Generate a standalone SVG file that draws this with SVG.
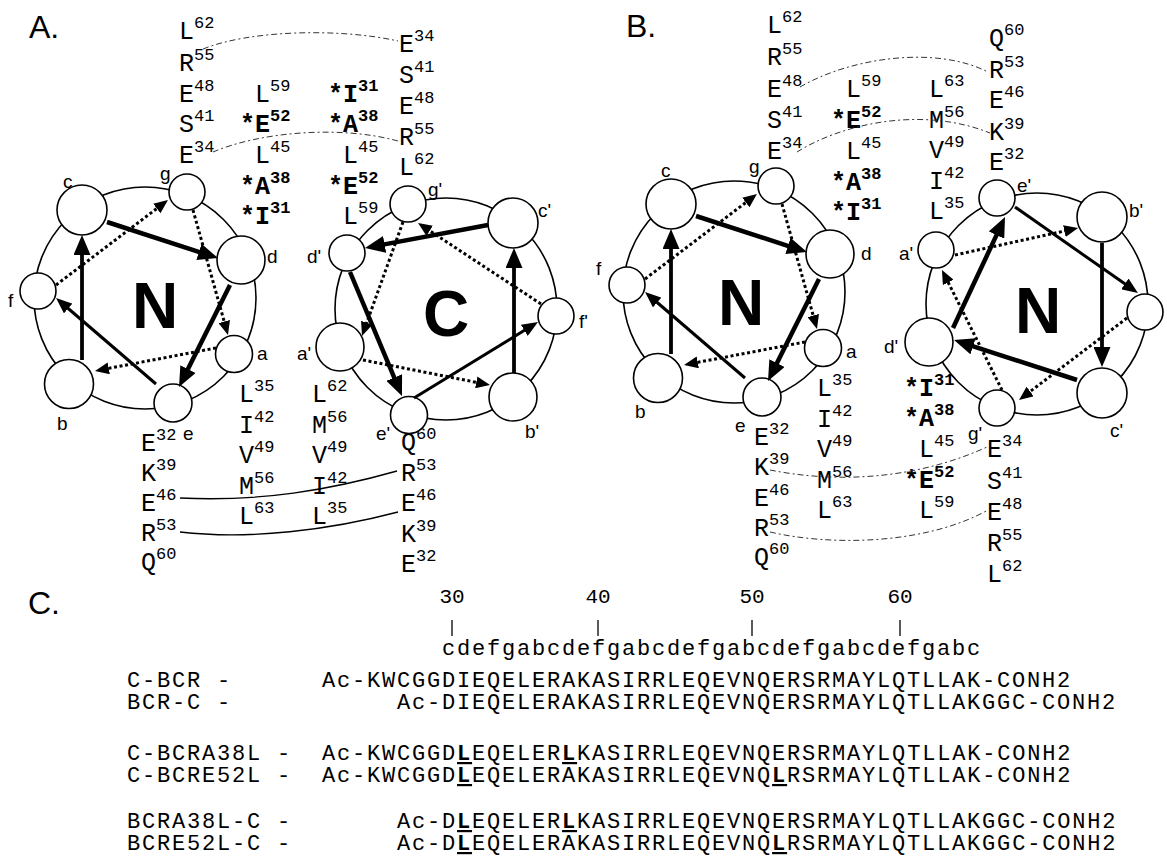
<svg xmlns="http://www.w3.org/2000/svg" width="1167" height="865" viewBox="0 0 1167 865">
<style>
  .ring{fill:none;stroke:#000;stroke-width:1.6}
  .res{fill:#fff;stroke:#000;stroke-width:1.6}
  .pos{font-family:"Liberation Sans",Arial,sans-serif;font-size:19px}
  .big{font-family:"Liberation Sans",Arial,sans-serif;font-weight:bold;font-size:64px;text-anchor:middle}
  .aa{font-family:"Liberation Mono","Courier New",monospace;font-size:25px}
  .sup{font-size:17px}
  .b{font-weight:bold}
  .panel{font-family:"Liberation Sans",Arial,sans-serif;font-size:32px}
  .seq{font-family:"Liberation Mono","Courier New",monospace;font-size:22px;letter-spacing:1.8px}
  .num{font-family:"Liberation Mono","Courier New",monospace;font-size:21px;text-anchor:middle}
  .mut{font-weight:bold;text-decoration:underline}
  .ar4{fill:none;stroke:#000;stroke-width:4.5;marker-end:url(#hL)}
  .ar3{fill:none;stroke:#000;stroke-width:3.8;marker-end:url(#hL)}
  .ar2{fill:none;stroke:#000;stroke-width:3;marker-end:url(#hM)}
  .dot{fill:none;stroke:#000;stroke-width:3;stroke-dasharray:3 2.6;marker-end:url(#hS)}
  .dash{fill:none;stroke:#333;stroke-width:1;stroke-dasharray:6 3 2 3}
  .link{fill:none;stroke:#000;stroke-width:1.3}
  .tick{stroke:#000;stroke-width:1.3}
</style>
<defs>
  <marker id="hL" markerUnits="userSpaceOnUse" markerWidth="20" markerHeight="17" viewBox="0 0 20 17" refX="3" refY="8.5" orient="auto"><path d="M0,0 L20,8.5 L0,17 Z"/></marker>
  <marker id="hM" markerUnits="userSpaceOnUse" markerWidth="16" markerHeight="13" viewBox="0 0 16 13" refX="3" refY="6.5" orient="auto"><path d="M0,0 L16,6.5 L0,13 Z"/></marker>
  <marker id="hS" markerUnits="userSpaceOnUse" markerWidth="14" markerHeight="12" viewBox="0 0 14 12" refX="3" refY="6" orient="auto"><path d="M0,0 L14,6 L0,12 Z"/></marker>
</defs>
<rect width="1167" height="865" fill="#fff"/>

<!-- panel letters -->
<text class="panel" x="29" y="38">A.</text>
<text class="panel" x="626" y="37">B.</text>
<text class="panel" x="28" y="614">C.</text>

<!-- ===== Panel A residue columns ===== -->
<g id="a-residues" class="aa">
  <text x="179" y="39">L<tspan class="sup" dy="-11">62</tspan></text>
  <text x="179" y="71">R<tspan class="sup" dy="-11">55</tspan></text>
  <text x="179" y="102">E<tspan class="sup" dy="-11">48</tspan></text>
  <text x="179" y="132">S<tspan class="sup" dy="-11">41</tspan></text>
  <text x="179" y="163">E<tspan class="sup" dy="-11">34</tspan></text>

  <text x="255" y="102">L<tspan class="sup" dy="-11">59</tspan></text>
  <text class="b" x="240" y="132">*E<tspan class="sup" dy="-11">52</tspan></text>
  <text x="255" y="163">L<tspan class="sup" dy="-11">45</tspan></text>
  <text class="b" x="240" y="194">*A<tspan class="sup" dy="-11">38</tspan></text>
  <text class="b" x="240" y="224">*I<tspan class="sup" dy="-11">31</tspan></text>

  <text class="b" x="328" y="102">*I<tspan class="sup" dy="-11">31</tspan></text>
  <text class="b" x="328" y="132">*A<tspan class="sup" dy="-11">38</tspan></text>
  <text x="343" y="163">L<tspan class="sup" dy="-11">45</tspan></text>
  <text class="b" x="328" y="194">*E<tspan class="sup" dy="-11">52</tspan></text>
  <text x="343" y="224">L<tspan class="sup" dy="-11">59</tspan></text>

  <text x="399" y="52">E<tspan class="sup" dy="-11">34</tspan></text>
  <text x="399" y="83">S<tspan class="sup" dy="-11">41</tspan></text>
  <text x="399" y="114">E<tspan class="sup" dy="-11">48</tspan></text>
  <text x="399" y="145">R<tspan class="sup" dy="-11">55</tspan></text>
  <text x="399" y="175">L<tspan class="sup" dy="-11">62</tspan></text>

  <text x="141" y="451">E<tspan class="sup" dy="-11">32</tspan></text>
  <text x="141" y="481">K<tspan class="sup" dy="-11">39</tspan></text>
  <text x="141" y="511">E<tspan class="sup" dy="-11">46</tspan></text>
  <text x="141" y="541">R<tspan class="sup" dy="-11">53</tspan></text>
  <text x="141" y="570">Q<tspan class="sup" dy="-11">60</tspan></text>

  <text x="239" y="402">L<tspan class="sup" dy="-11">35</tspan></text>
  <text x="239" y="433">I<tspan class="sup" dy="-11">42</tspan></text>
  <text x="239" y="463">V<tspan class="sup" dy="-11">49</tspan></text>
  <text x="239" y="494">M<tspan class="sup" dy="-11">56</tspan></text>
  <text x="239" y="524">L<tspan class="sup" dy="-11">63</tspan></text>

  <text x="312" y="402">L<tspan class="sup" dy="-11">62</tspan></text>
  <text x="312" y="433">M<tspan class="sup" dy="-11">56</tspan></text>
  <text x="312" y="463">V<tspan class="sup" dy="-11">49</tspan></text>
  <text x="312" y="494">I<tspan class="sup" dy="-11">42</tspan></text>
  <text x="312" y="524">L<tspan class="sup" dy="-11">35</tspan></text>

  <text x="401" y="450">Q<tspan class="sup" dy="-11">60</tspan></text>
  <text x="401" y="481">R<tspan class="sup" dy="-11">53</tspan></text>
  <text x="401" y="511">E<tspan class="sup" dy="-11">46</tspan></text>
  <text x="401" y="542">K<tspan class="sup" dy="-11">39</tspan></text>
  <text x="401" y="572">E<tspan class="sup" dy="-11">32</tspan></text>
</g>

<!-- ===== Panel B residue columns ===== -->
<g id="b-residues" class="aa">
  <text x="767" y="33">L<tspan class="sup" dy="-11">62</tspan></text>
  <text x="767" y="65">R<tspan class="sup" dy="-11">55</tspan></text>
  <text x="767" y="97">E<tspan class="sup" dy="-11">48</tspan></text>
  <text x="767" y="128">S<tspan class="sup" dy="-11">41</tspan></text>
  <text x="767" y="159">E<tspan class="sup" dy="-11">34</tspan></text>

  <text x="846" y="97">L<tspan class="sup" dy="-11">59</tspan></text>
  <text class="b" x="831" y="128">*E<tspan class="sup" dy="-11">52</tspan></text>
  <text x="846" y="159">L<tspan class="sup" dy="-11">45</tspan></text>
  <text class="b" x="831" y="190">*A<tspan class="sup" dy="-11">38</tspan></text>
  <text class="b" x="831" y="220">*I<tspan class="sup" dy="-11">31</tspan></text>

  <text x="929" y="97">L<tspan class="sup" dy="-11">63</tspan></text>
  <text x="929" y="128">M<tspan class="sup" dy="-11">56</tspan></text>
  <text x="929" y="158">V<tspan class="sup" dy="-11">49</tspan></text>
  <text x="929" y="189">I<tspan class="sup" dy="-11">42</tspan></text>
  <text x="929" y="219">L<tspan class="sup" dy="-11">35</tspan></text>

  <text x="989" y="46">Q<tspan class="sup" dy="-11">60</tspan></text>
  <text x="989" y="78">R<tspan class="sup" dy="-11">53</tspan></text>
  <text x="989" y="108">E<tspan class="sup" dy="-11">46</tspan></text>
  <text x="989" y="140">K<tspan class="sup" dy="-11">39</tspan></text>
  <text x="989" y="170">E<tspan class="sup" dy="-11">32</tspan></text>

  <text x="754" y="445">E<tspan class="sup" dy="-11">32</tspan></text>
  <text x="754" y="475">K<tspan class="sup" dy="-11">39</tspan></text>
  <text x="754" y="506">E<tspan class="sup" dy="-11">46</tspan></text>
  <text x="754" y="536">R<tspan class="sup" dy="-11">53</tspan></text>
  <text x="754" y="565">Q<tspan class="sup" dy="-11">60</tspan></text>

  <text x="817" y="396">L<tspan class="sup" dy="-11">35</tspan></text>
  <text x="817" y="427">I<tspan class="sup" dy="-11">42</tspan></text>
  <text x="817" y="457">V<tspan class="sup" dy="-11">49</tspan></text>
  <text x="817" y="488">M<tspan class="sup" dy="-11">56</tspan></text>
  <text x="817" y="518">L<tspan class="sup" dy="-11">63</tspan></text>

  <text class="b" x="904" y="396">*I<tspan class="sup" dy="-11">31</tspan></text>
  <text class="b" x="904" y="426">*A<tspan class="sup" dy="-11">38</tspan></text>
  <text x="919" y="457">L<tspan class="sup" dy="-11">45</tspan></text>
  <text class="b" x="904" y="488">*E<tspan class="sup" dy="-11">52</tspan></text>
  <text x="919" y="518">L<tspan class="sup" dy="-11">59</tspan></text>

  <text x="987" y="457">E<tspan class="sup" dy="-11">34</tspan></text>
  <text x="987" y="489">S<tspan class="sup" dy="-11">41</tspan></text>
  <text x="987" y="520">E<tspan class="sup" dy="-11">48</tspan></text>
  <text x="987" y="551">R<tspan class="sup" dy="-11">55</tspan></text>
  <text x="987" y="582">L<tspan class="sup" dy="-11">62</tspan></text>
</g>

<!-- lines pairing residues across the two helices -->
<g id="pairings">
  <path class="dash" d="M203,49 C250,30 340,28 398,41"/>
  <path class="dash" d="M213,152 C260,132 340,125 398,141"/>
  <path class="link" d="M180,498 C260,502 330,490 397,471"/>
  <path class="link" d="M180,532 C250,540 330,530 398,512"/>
  <path class="dash" d="M800,87 C850,58 935,45 988,72"/>
  <path class="dash" d="M797,152 C840,125 920,105 990,133"/>
  <path class="dash" d="M770,470 C830,482 910,482 987,447"/>
  <path class="dash" d="M770,532 C830,546 925,545 988,510"/>
</g>

<!-- ===== Panel A, N-terminal wheel ===== -->
<g id="wheel-a-n">
  <circle class="ring" cx="145" cy="298" r="111"/>
  <g id="a-n-c"><circle class="res" cx="82" cy="210" r="25"/><text class="pos" x="63" y="188">c</text></g>
  <g id="a-n-g"><circle class="res" cx="187" cy="192" r="18"/><text class="pos" x="160" y="180">g</text></g>
  <g id="a-n-d"><circle class="res" cx="241" cy="260" r="24"/><text class="pos" x="267" y="263">d</text></g>
  <g id="a-n-f"><circle class="res" cx="38" cy="291" r="18"/><text class="pos" x="8" y="307">f</text></g>
  <g id="a-n-a"><circle class="res" cx="234" cy="354" r="18.5"/><text class="pos" x="257" y="360">a</text></g>
  <g id="a-n-b"><circle class="res" cx="69" cy="384" r="24.5"/><text class="pos" x="57" y="430">b</text></g>
  <g id="a-n-e"><circle class="res" cx="173" cy="403" r="19"/><text class="pos" x="183" y="440">e</text></g>
  <text class="big" x="155" y="328">N</text>
</g>

<!-- ===== Panel A, C-terminal wheel ===== -->
<g id="wheel-a-c">
  <circle class="ring" cx="446" cy="309" r="111"/>
  <g id="a-c-g"><circle class="res" cx="408" cy="204" r="18"/><text class="pos" x="428" y="196">g'</text></g>
  <g id="a-c-c"><circle class="res" cx="513" cy="223" r="25"/><text class="pos" x="538" y="217">c'</text></g>
  <g id="a-c-d"><circle class="res" cx="347" cy="253" r="18"/><text class="pos" x="307" y="263">d'</text></g>
  <g id="a-c-f"><circle class="res" cx="556" cy="316" r="18"/><text class="pos" x="579" y="328">f'</text></g>
  <g id="a-c-a"><circle class="res" cx="340" cy="347" r="24"/><text class="pos" x="297" y="360">a'</text></g>
  <g id="a-c-b"><circle class="res" cx="513" cy="397" r="24"/><text class="pos" x="525" y="438">b'</text></g>
  <g id="a-c-e"><circle class="res" cx="409" cy="415" r="18.5"/><text class="pos" x="376" y="440">e'</text></g>
  <text class="big" x="446" y="336">C</text>
</g>

<!-- ===== Panel B, first N-terminal wheel ===== -->
<g id="wheel-b-n1">
  <circle class="ring" cx="734" cy="292" r="111"/>
  <g id="b-n1-c"><circle class="res" cx="671" cy="204" r="25"/><text class="pos" x="661" y="177">c</text></g>
  <g id="b-n1-g"><circle class="res" cx="776" cy="186" r="18"/><text class="pos" x="749" y="173">g</text></g>
  <g id="b-n1-d"><circle class="res" cx="830" cy="254" r="24"/><text class="pos" x="861" y="260">d</text></g>
  <g id="b-n1-f"><circle class="res" cx="627" cy="285" r="18"/><text class="pos" x="596" y="275">f</text></g>
  <g id="b-n1-a"><circle class="res" cx="823" cy="348" r="18.5"/><text class="pos" x="846" y="358">a</text></g>
  <g id="b-n1-b"><circle class="res" cx="658" cy="378" r="24.5"/><text class="pos" x="635" y="418">b</text></g>
  <g id="b-n1-e"><circle class="res" cx="762" cy="397" r="19"/><text class="pos" x="735" y="432">e</text></g>
  <text class="big" x="741" y="325">N</text>
</g>

<!-- ===== Panel B, second N-terminal wheel ===== -->
<g id="wheel-b-n2">
  <circle class="ring" cx="1037" cy="304" r="111"/>
  <g id="b-n2-e"><circle class="res" cx="997" cy="198" r="18"/><text class="pos" x="1017" y="192">e'</text></g>
  <g id="b-n2-b"><circle class="res" cx="1102" cy="217" r="25"/><text class="pos" x="1129" y="217">b'</text></g>
  <g id="b-n2-a"><circle class="res" cx="936" cy="250" r="18"/><text class="pos" x="899" y="260">a'</text></g>
  <g id="b-n2-f"><circle class="res" cx="1145" cy="312" r="18"/></g>
  <g id="b-n2-d"><circle class="res" cx="929" cy="342" r="24"/><text class="pos" x="884" y="353">d'</text></g>
  <g id="b-n2-c"><circle class="res" cx="1102" cy="393" r="25"/><text class="pos" x="1110" y="437">c'</text></g>
  <g id="b-n2-g"><circle class="res" cx="997" cy="408" r="18"/><text class="pos" x="968" y="440">g'</text></g>
  <text class="big" x="1038" y="333">N</text>
</g>

<!-- wheel arrows, residue i to i+1 -->
<g id="connectors">
  <line class="ar3" x1="82" y1="360" x2="82" y2="252"/>
  <line class="ar4" x1="107" y1="222" x2="201.8" y2="252.8"/>
  <line class="ar4" x1="230" y1="285" x2="186.6" y2="371.8"/>
  <line class="ar2" x1="156" y1="384" x2="65.9" y2="306.5"/>
  <line class="dot" x1="56" y1="285" x2="159.2" y2="206.7"/>
  <line class="dot" x1="193" y1="210" x2="225" y2="324.4"/>
  <line class="dot" x1="216" y1="348" x2="105.8" y2="368.9"/>

  <line class="dot" x1="363" y1="360" x2="479.2" y2="382.9"/>
  <line class="ar3" x1="514" y1="373" x2="514" y2="265"/>
  <line class="ar4" x1="488" y1="225" x2="381.7" y2="244.9"/>
  <line class="ar4" x1="350" y1="272" x2="395.4" y2="380.3"/>
  <line class="ar2" x1="414" y1="398" x2="526.9" y2="328.8"/>
  <line class="dot" x1="541" y1="304" x2="427.2" y2="229.1"/>
  <line class="dot" x1="403" y1="222" x2="365.7" y2="325.6"/>

  <line class="ar3" x1="671" y1="354" x2="671" y2="246"/>
  <line class="ar4" x1="696" y1="216" x2="790.8" y2="246.8"/>
  <line class="ar4" x1="819" y1="279" x2="775.6" y2="365.8"/>
  <line class="ar2" x1="745" y1="378" x2="654.9" y2="300.5"/>
  <line class="dot" x1="645" y1="279" x2="748.2" y2="200.7"/>
  <line class="dot" x1="782" y1="204" x2="814" y2="318.4"/>
  <line class="dot" x1="805" y1="342" x2="694.8" y2="362.9"/>

  <line class="dot" x1="955" y1="255" x2="1067.3" y2="230.4"/>
  <line class="ar3" x1="1102" y1="243" x2="1102" y2="350"/>
  <line class="ar4" x1="1077" y1="380" x2="970.2" y2="345.3"/>
  <line class="ar4" x1="953" y1="328" x2="997.8" y2="232.4"/>
  <line class="ar2" x1="1015" y1="207" x2="1127.3" y2="285.6"/>
  <line class="dot" x1="1127" y1="318" x2="1027.8" y2="393.3"/>
  <line class="dot" x1="1002" y1="390" x2="946.9" y2="279.8"/>
</g>

<!-- ===== Panel C: sequences ===== -->
<g id="ruler">
  <text class="num" x="452" y="603">30</text>
  <text class="num" x="598" y="603">40</text>
  <text class="num" x="752" y="603">50</text>
  <text class="num" x="900" y="603">60</text>
  <line class="tick" x1="452" y1="620" x2="452" y2="636"/>
  <line class="tick" x1="598" y1="620" x2="598" y2="636"/>
  <line class="tick" x1="752" y1="620" x2="752" y2="636"/>
  <line class="tick" x1="900" y1="620" x2="900" y2="636"/>
  <text class="seq" x="442" y="655">cdefgabcdefgabcdefgabcdefgabcdefgabc</text>
</g>
<g id="sequences" class="seq">
  <text x="127" y="687">C-BCR -</text>
  <text x="322" y="687">Ac-KWCGGDIEQELERAKASIRRLEQEVNQERSRMAYLQTLLAK-CONH2</text>
  <text x="127" y="709">BCR-C -</text>
  <text x="397" y="709">Ac-DIEQELERAKASIRRLEQEVNQERSRMAYLQTLLAKGGC-CONH2</text>

  <text x="127" y="760">C-BCRA38L -</text>
  <text x="322" y="760">Ac-KWCGGD<tspan class="mut">L</tspan>EQELER<tspan class="mut">L</tspan>KASIRRLEQEVNQERSRMAYLQTLLAK-CONH2</text>
  <text x="127" y="782">C-BCRE52L -</text>
  <text x="322" y="782">Ac-KWCGGD<tspan class="mut">L</tspan>EQELERAKASIRRLEQEVNQ<tspan class="mut">L</tspan>RSRMAYLQTLLAK-CONH2</text>

  <text x="127" y="828">BCRA38L-C -</text>
  <text x="397" y="828">Ac-D<tspan class="mut">L</tspan>EQELER<tspan class="mut">L</tspan>KASIRRLEQEVNQERSRMAYLQTLLAKGGC-CONH2</text>
  <text x="127" y="850">BCRE52L-C -</text>
  <text x="397" y="850">Ac-D<tspan class="mut">L</tspan>EQELERAKASIRRLEQEVNQ<tspan class="mut">L</tspan>RSRMAYLQTLLAKGGC-CONH2</text>
</g>
</svg>
